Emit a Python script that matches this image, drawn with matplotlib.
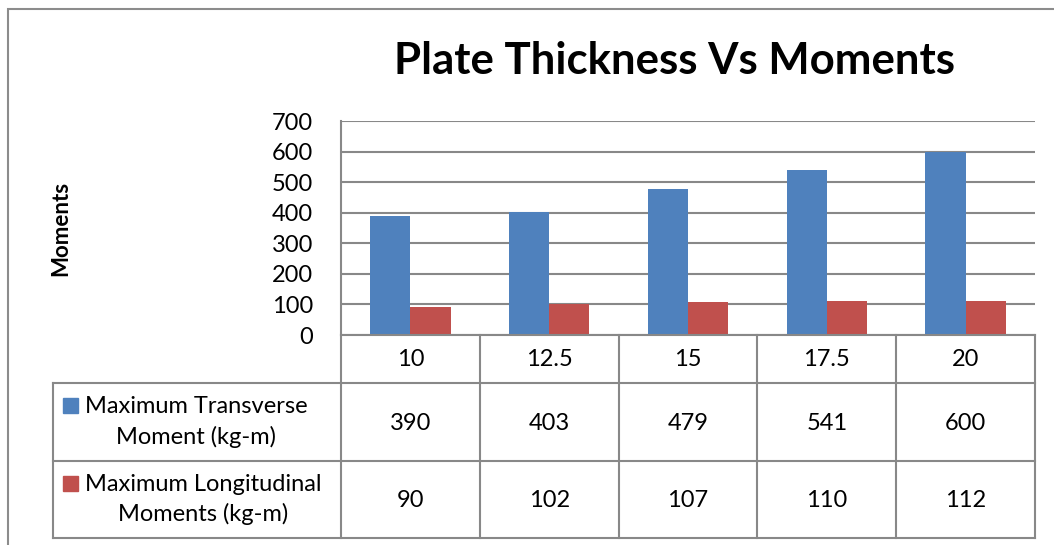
import matplotlib
matplotlib.use("Agg")
from matplotlib import pyplot as plt
from matplotlib.patches import Rectangle
import numpy as np

plt.rcParams['font.family'] = ['Lato', 'DejaVu Sans']

# chart data
thickness = ["10", "12.5", "15", "17.5", "20"]
transverse = [390, 403, 479, 541, 600]
longitudinal = [90, 102, 107, 110, 112]
series_names = ["Maximum Transverse\nMoment (kg-m)", "Maximum Longitudinal\nMoments (kg-m)"]
series_values = [transverse, longitudinal]
colors = ["#4F81BD", "#C0504D"]
yticks = [0, 100, 200, 300, 400, 500, 600, 700]

W, H = 1054, 545
fig = plt.figure(figsize=(W / 100, H / 100), dpi=100)
fs = 17

def fx(px):
    return px / W

def fy(py):
    return 1 - py / H

# outer chart border (left + top only visible)
fig.patches.append(Rectangle((fx(8), fy(560)), fx(1060) - fx(8), fy(9) - fy(560),
                             transform=fig.transFigure, fill=False,
                             edgecolor="#8c8c8c", linewidth=1.5))

# plot area
L, R, T, B = 341, 1035, 121, 335
ax = fig.add_axes([fx(L), fy(B), fx(R) - fx(L), fy(T) - fy(B)])
x = np.arange(len(thickness))
bw = 0.29
ax.bar(x - bw / 2, transverse, bw, color=colors[0], zorder=3)
ax.bar(x + bw / 2, longitudinal, bw, color=colors[1], zorder=3)
ax.set_xlim(-0.5, len(thickness) - 0.5)
ax.set_ylim(0, 700)
ax.set_yticks(yticks)
ax.set_yticklabels([str(v) for v in yticks], fontsize=fs)
ax.set_xticks([])
ax.tick_params(axis="y", length=0, pad=20)
ax.yaxis.grid(True, color="#888888", linewidth=1.5, zorder=0)
for s in ["top", "right", "bottom"]:
    ax.spines[s].set_visible(False)
ax.spines["left"].set_color("#888888")
ax.spines["left"].set_linewidth(1.5)

fig.text(fx(674), fy(61), "Plate Thickness Vs Moments", ha="center", va="center",
         fontsize=31.5, fontweight="bold")
fig.text(fx(61), fy(228), "Moments", ha="center", va="center", rotation=90,
         fontsize=16, fontweight="bold")

# data table below plot
TL, TB = 53, 538
rows = [0, 48, 126, 203]
tax = fig.add_axes([fx(TL), fy(TB), fx(R) - fx(TL), fy(B) - fy(TB)])
col_w = (R - L) / len(thickness)
left_edge = -0.5 - (L - TL) / col_w
tax.set_xlim(left_edge, len(thickness) - 0.5)
tax.set_ylim(rows[-1], 0)
tax.axis("off")
lc = "#888888"
lw = 1.5
# vertical lines of value columns
for i in range(len(thickness) + 1):
    tax.plot([i - 0.5, i - 0.5], [0, rows[-1]], color=lc, lw=lw, clip_on=False)
# left edge of legend column
tax.plot([left_edge, left_edge], [rows[1], rows[-1]], color=lc, lw=lw, clip_on=False)
# horizontal lines
tax.plot([-0.5, len(thickness) - 0.5], [0, 0], color=lc, lw=lw, clip_on=False)
for r in rows[1:]:
    tax.plot([left_edge, len(thickness) - 0.5], [r, r], color=lc, lw=lw, clip_on=False)

for i, t in enumerate(thickness):
    tax.text(i, (rows[0] + rows[1]) / 2 + 1, t, ha="center", va="center", fontsize=fs)
for j, (name, vals) in enumerate(zip(series_names, series_values)):
    yc = (rows[j + 1] + rows[j + 2]) / 2
    for i, v in enumerate(vals):
        tax.text(i, yc + 1, str(v), ha="center", va="center", fontsize=fs)
    key_x = left_edge + 10 / col_w
    tax.add_patch(Rectangle((key_x, yc - 24), 15 / col_w, 15, color=colors[j], clip_on=False))
    tax.text(left_edge + 32 / col_w, yc, name, ha="left", va="center", fontsize=fs,
             multialignment="center", linespacing=1.45)

fig.savefig("out.png", dpi=100)
